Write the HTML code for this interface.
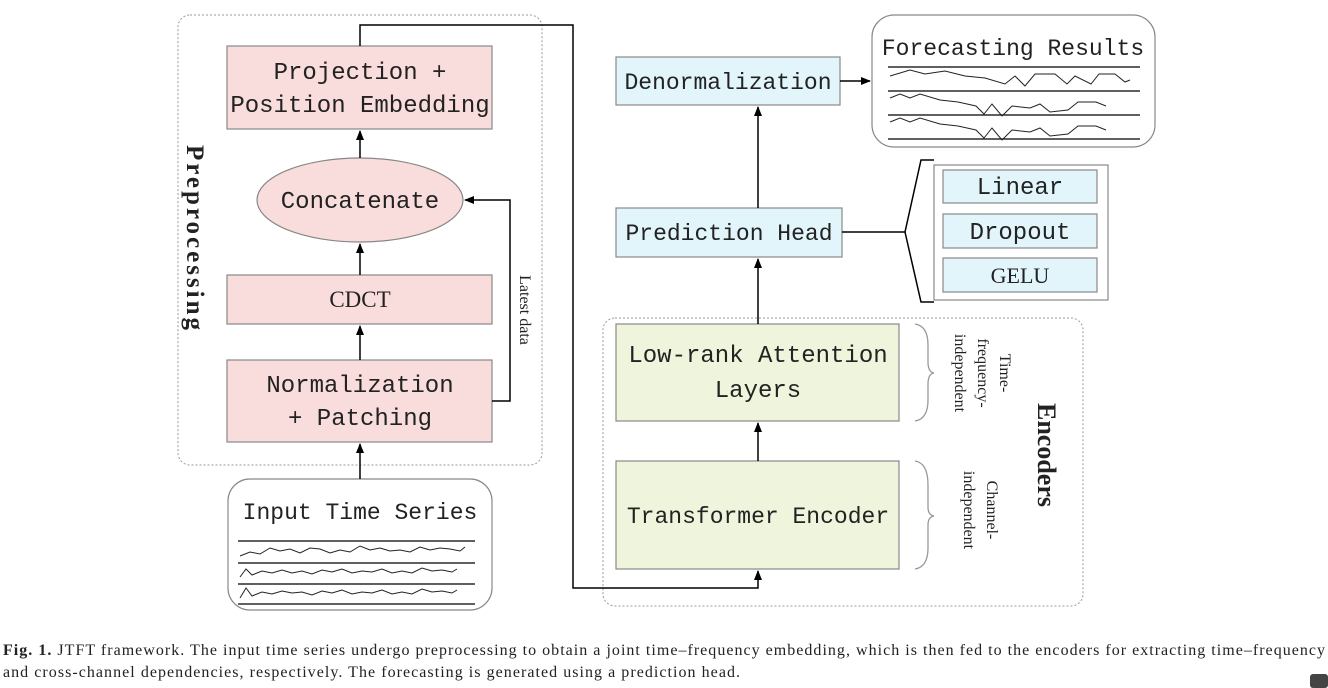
<!DOCTYPE html>
<html><head><style>body{margin:0;background:#fff}svg{display:block}</style></head><body>
<svg width="1328" height="688" viewBox="0 0 1328 688" xmlns="http://www.w3.org/2000/svg" font-family="'Liberation Mono', monospace">
<defs><marker id="a" markerWidth="10" markerHeight="10" refX="9" refY="5" orient="auto" markerUnits="userSpaceOnUse"><path d="M0,1 L10,5 L0,9z" fill="#000"/></marker></defs>
<rect x="178" y="15" width="364" height="450" rx="12" fill="none" stroke="#999" stroke-dasharray="2,2"/>
<rect x="603" y="318" width="480" height="288" rx="12" fill="none" stroke="#999" stroke-dasharray="2,2"/>
<g stroke="#888" stroke-width="1.2">
<rect x="227" y="46" width="265" height="83" fill="#f9dcdc"/>
<ellipse cx="360" cy="200" rx="103" ry="42" fill="#f9dcdc"/>
<rect x="227" y="275" width="265" height="49" fill="#f9dcdc"/>
<rect x="227" y="360" width="265" height="82" fill="#f9dcdc"/>
<rect x="616" y="324" width="283" height="97" fill="#eef5dc"/>
<rect x="616" y="461" width="283" height="108" fill="#eef5dc"/>
<rect x="616" y="208" width="226" height="49" fill="#e1f5fb"/>
<rect x="616" y="57" width="224" height="48" fill="#e1f5fb"/>
<rect x="934" y="165" width="174" height="135" fill="#fff"/>
<rect x="943" y="170" width="154" height="33" fill="#e1f5fb"/>
<rect x="943" y="214" width="154" height="34" fill="#e1f5fb"/>
<rect x="943" y="258" width="154" height="34" fill="#e1f5fb"/>
<rect x="228" y="479" width="264" height="131" rx="22" fill="#fff"/>
<rect x="872" y="15" width="283" height="132" rx="22" fill="#fff"/>
</g>
<g stroke="#000" stroke-width="1.5" fill="none">
<line x1="360" y1="479" x2="360" y2="444" marker-end="url(#a)"/>
<line x1="360" y1="360" x2="360" y2="326" marker-end="url(#a)"/>
<line x1="360" y1="275" x2="360" y2="244" marker-end="url(#a)"/>
<line x1="360" y1="158" x2="360" y2="131" marker-end="url(#a)"/>
<polyline points="492,401 510,401 510,200 465,200" marker-end="url(#a)"/>
<polyline points="360,46 360,25 573,25 573,588 758,588 758,571" marker-end="url(#a)"/>
<line x1="758" y1="461" x2="758" y2="423" marker-end="url(#a)"/>
<line x1="758" y1="324" x2="758" y2="259" marker-end="url(#a)"/>
<line x1="758" y1="208" x2="758" y2="107" marker-end="url(#a)"/>
<line x1="840" y1="81" x2="870" y2="81" marker-end="url(#a)"/>
<polyline points="842,232 905,232 921,160 934,160"/>
<polyline points="905,232 921,302 934,302"/>
</g>
<g stroke="#999" stroke-width="1.3" fill="none">
<path d="M915,324 Q928,326 928,345 L928,362 Q928,372 934,373 Q928,374 928,384 L928,400 Q928,419 915,421"/>
<path d="M915,461 Q928,463 928,485 L928,507 Q928,515 934,516 Q928,517 928,525 L928,548 Q928,567 915,569"/>
</g>
<g stroke="#000" stroke-width="1.2">
<line x1="238" y1="541" x2="475" y2="541"/><line x1="238" y1="563" x2="475" y2="563"/><line x1="238" y1="584" x2="475" y2="584"/><line x1="238" y1="604" x2="475" y2="604"/>
<line x1="888" y1="67" x2="1140" y2="67"/><line x1="888" y1="91" x2="1140" y2="91"/><line x1="888" y1="115" x2="1140" y2="115"/><line x1="888" y1="139" x2="1140" y2="139"/>
</g>
<g stroke="#222" stroke-width="1" fill="none">
<path d="M240,556 l10,-4 10,2 10,-6 10,3 10,-2 10,4 10,-5 10,1 10,4 10,-3 10,2 10,-6 10,4 10,-2 10,3 10,-1 10,2 10,-5 10,3 10,-2 10,1 10,2 5,-4"/>
<path d="M240,577 l6,-8 6,6 10,-4 10,2 10,-3 10,3 10,-2 10,3 10,-4 10,2 10,-3 10,4 10,-2 10,1 10,-3 10,4 10,-2 10,2 10,-5 10,3 10,-1 10,2 5,-3"/>
<path d="M240,598 l6,-10 6,8 10,-4 10,2 10,-3 10,2 10,-1 10,3 10,-4 10,2 10,-3 10,4 10,-2 10,1 10,-3 10,4 10,-2 10,2 10,-5 10,3 10,-1 10,2 5,-3"/>
<path d="M890,76 l20,-6 15,4 20,-3 20,5 20,2 20,6 10,-8 10,10 10,-12 20,0 12,10 8,-8 16,8 8,-10 16,0 10,8 5,-2"/>
<path d="M890,98 l10,-4 10,4 10,-4 20,6 18,2 18,4 8,8 8,-10 10,12 10,-10 18,2 10,-4 10,8 18,-2 10,-8 18,0 10,4"/>
<path d="M890,122 l10,-4 10,4 10,-4 20,6 18,2 18,4 8,8 8,-10 10,12 10,-10 18,2 10,-4 10,8 18,-2 10,-8 18,0 10,4"/>
</g>
<g font-size="24" fill="#222" text-anchor="middle">
<text x="360" y="79">Projection +</text>
<text x="360" y="112">Position Embedding</text>
<text x="360" y="208">Concatenate</text>
<text x="360" y="307" font-family="'Liberation Serif',serif" font-size="23">CDCT</text>
<text x="360" y="392">Normalization</text>
<text x="360" y="425">+ Patching</text>
<text x="360" y="519" font-size="23">Input Time Series</text>
<text x="758" y="362">Low-rank Attention</text>
<text x="758" y="397">Layers</text>
<text x="758" y="523" font-size="23">Transformer Encoder</text>
<text x="729" y="240" font-size="23">Prediction Head</text>
<text x="728" y="89" font-size="23">Denormalization</text>
<text x="1013" y="55" font-size="23">Forecasting Results</text>
<text x="1020" y="194">Linear</text>
<text x="1020" y="239">Dropout</text>
<text x="1020" y="283" font-family="'Liberation Serif',serif" font-size="22">GELU</text>
</g>
<g fill="#222" font-family="'Liberation Serif',serif">
<text transform="translate(187,145) rotate(90)" font-size="25" font-weight="bold" textLength="185" lengthAdjust="spacing">Preprocessing</text>
<text transform="translate(520,310) rotate(90)" font-size="16" text-anchor="middle">Latest data</text>
<text transform="translate(1038,455) rotate(90)" font-size="26" font-weight="bold" text-anchor="middle">Encoders</text>
<text transform="translate(1000,373) rotate(90)" font-size="16" text-anchor="middle">Time-</text>
<text transform="translate(978,373) rotate(90)" font-size="16" text-anchor="middle">frequency-</text>
<text transform="translate(955,373) rotate(90)" font-size="16" text-anchor="middle">independent</text>
<text transform="translate(987,510) rotate(90)" font-size="16" text-anchor="middle">Channel-</text>
<text transform="translate(964,510) rotate(90)" font-size="16" text-anchor="middle">independent</text>
</g>
<g font-family="'Liberation Serif',serif" font-size="16" fill="#222">
<text x="3" y="655" textLength="1322" lengthAdjust="spacing"><tspan font-weight="bold">Fig. 1.</tspan> JTFT framework. The input time series undergo preprocessing to obtain a joint time–frequency embedding, which is then fed to the encoders for extracting time–frequency</text>
<text x="3" y="677" textLength="737" lengthAdjust="spacing">and cross-channel dependencies, respectively. The forecasting is generated using a prediction head.</text>
</g>
<rect x="1310" y="674" width="18" height="14" rx="3" fill="#444"/>
</svg>
</body></html>
